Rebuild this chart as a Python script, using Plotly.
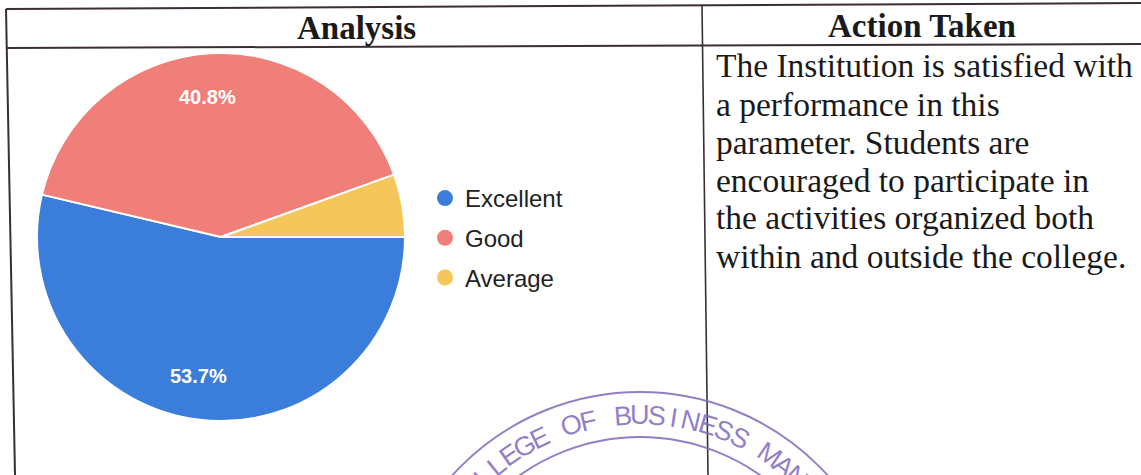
import math
import plotly.graph_objects as go

# ---- data ----
categories = ["Excellent", "Good", "Average"]
shares = [53.7, 40.8, 5.5]
colors = ["#3b7dda", "#f07f79", "#f5c75a"]

header_left = "Analysis"
header_right = "Action Taken"
action_lines = [
    "The Institution is satisfied with",
    "a performance in this",
    "parameter. Students are",
    "encouraged to participate in",
    "the activities organized both",
    "within and outside the college.",
]
stamp_text = "COLLEGE OF BUSINESS MANAGEMENT"

W, H = 1141, 475


def px(x):
    return x / W


def py(y):
    return 1 - y / H


fig = go.Figure()

# pie geometry (pixels)
pcx, pcy, pr = 221, 237, 184
start_deg = 90

fig.add_trace(go.Pie(
    labels=categories, values=shares, sort=False, direction="clockwise",
    rotation=start_deg, marker=dict(colors=colors, line=dict(color="white", width=2)),
    textinfo="none",
    domain=dict(x=[px(pcx - pr), px(pcx + pr)], y=[py(pcy + pr), py(pcy - pr)]),
    showlegend=False, hoverinfo="label+percent",
))

# legend entries (circle markers)
for c, col in zip(categories, colors):
    fig.add_trace(go.Scatter(
        x=[None], y=[None], mode="markers", name=c, legendgroup=c,
        marker=dict(symbol="circle", size=18, color=col),
    ))

annotations = []
# percentage labels placed along each slice's bisector
total = sum(shares)
cum = 0.0
for v in shares:
    mid = start_deg + 360 * (cum + v / 2) / total
    cum += v
    if v < 10:
        continue
    lx = pcx + 0.76 * pr * math.sin(math.radians(mid))
    ly = pcy - 0.76 * pr * math.cos(math.radians(mid))
    annotations.append(dict(x=px(lx - 6), y=py(ly), xref="paper", yref="paper",
                            text=f"<b>{v:.1f}%</b>", showarrow=False,
                            font=dict(family="Liberation Sans", size=20, color="white"),
                            xanchor="center", yanchor="middle"))

shapes = []
line_col = "#3b2f33"
# table lines
shapes.append(dict(type="line", xref="paper", yref="paper",
                   x0=px(6), y0=py(9), x1=px(1141), y1=py(3),
                   line=dict(color=line_col, width=2)))
shapes.append(dict(type="line", xref="paper", yref="paper",
                   x0=px(6), y0=py(48), x1=px(1141), y1=py(44),
                   line=dict(color=line_col, width=2)))
shapes.append(dict(type="line", xref="paper", yref="paper",
                   x0=px(6), y0=py(9), x1=px(15), y1=py(475),
                   line=dict(color=line_col, width=2)))
shapes.append(dict(type="line", xref="paper", yref="paper",
                   x0=px(702), y0=py(5), x1=px(708), y1=py(475),
                   line=dict(color=line_col, width=1.6)))

# stamp rings
stamp_col = "rgba(128,104,190,0.85)"
scx, scy = 640, 645
for r in (253, 208):
    shapes.append(dict(type="circle", xref="paper", yref="paper",
                       x0=px(scx - r), x1=px(scx + r), y0=py(scy + r), y1=py(scy - r),
                       line=dict(color=stamp_col, width=2)))

annotations.append(dict(x=px(356), y=py(28), xref="paper", yref="paper",
                        text=f"<b>{header_left}</b>", showarrow=False,
                        font=dict(family="Liberation Serif", size=33, color="#1a1a1a"),
                        xanchor="center", yanchor="middle"))
annotations.append(dict(x=px(922), y=py(26), xref="paper", yref="paper",
                        text=f"<b>{header_right}</b>", showarrow=False,
                        font=dict(family="Liberation Serif", size=33, color="#1a1a1a"),
                        xanchor="center", yanchor="middle"))
line_y = [66, 104, 142, 180, 218, 256]
for t, yy in zip(action_lines, line_y):
    annotations.append(dict(x=px(714), y=py(yy), xref="paper", yref="paper",
                            text=t, showarrow=False,
                            font=dict(family="Liberation Serif", size=33.5, color="#1a1a1a"),
                            xanchor="left", yanchor="middle"))

# stamp lettering on an arc
rt = 230
step = 4.3
u_idx = stamp_text.index("BUSINESS") + 1
for i, ch in enumerate(stamp_text):
    if ch == " ":
        continue
    th = (i - u_idx) * step
    x = scx + rt * math.sin(math.radians(th))
    y = scy - rt * math.cos(math.radians(th))
    if y > 480:
        continue
    annotations.append(dict(x=px(x), y=py(y), xref="paper", yref="paper",
                            text=ch, showarrow=False, textangle=th,
                            font=dict(family="Liberation Sans", size=27, color=stamp_col),
                            xanchor="center", yanchor="middle"))

fig.update_layout(
    width=W, height=H, margin=dict(l=0, r=0, t=0, b=0),
    paper_bgcolor="white", plot_bgcolor="white",
    xaxis=dict(visible=False), yaxis=dict(visible=False),
    shapes=shapes, annotations=annotations,
    legend=dict(x=px(425), y=py(238), xanchor="left", yanchor="middle",
                font=dict(family="Liberation Sans", size=24, color="#222222"),
                tracegroupgap=5.5, bgcolor="rgba(0,0,0,0)"),
)

fig.write_html(
    "out.html",
    config={"displayModeBar": False},
    post_script="document.body.style.margin='0';document.body.style.overflow='hidden';",
)
